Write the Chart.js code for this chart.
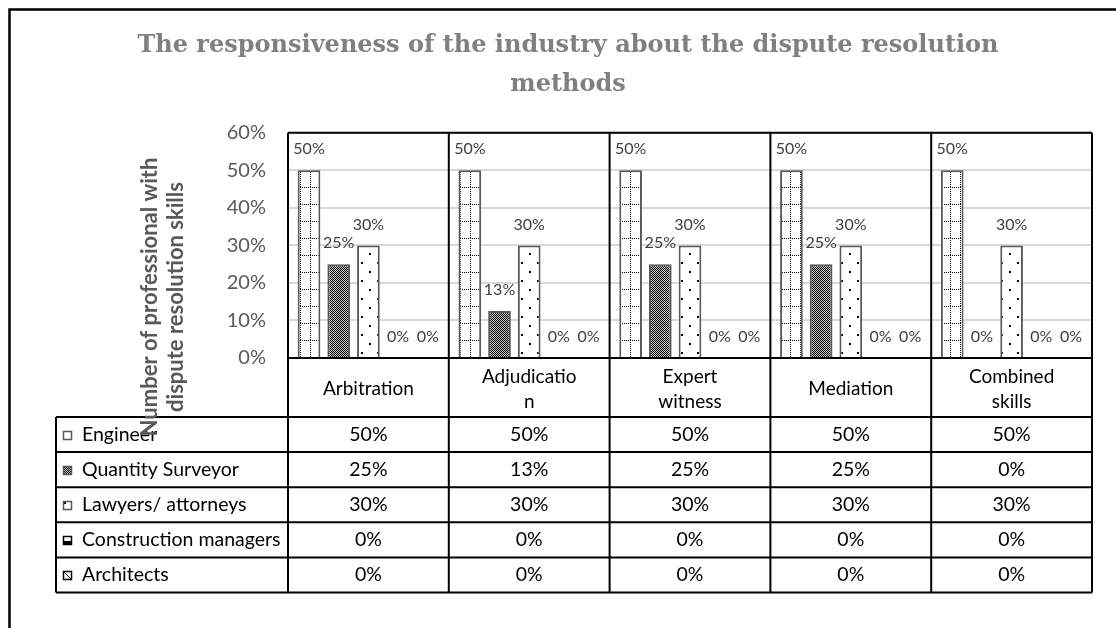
<!DOCTYPE html>
<html>
<head>
<meta charset="utf-8">
<title>Dispute resolution methods</title>
<script src="https://cdn.jsdelivr.net/npm/chart.js@4.4.0/dist/chart.umd.min.js"></script>
<style>
  html, body { margin: 0; padding: 0; background: #fff; }
  #wrap { width: 1116px; height: 628px; }
</style>
</head>
<body>
<div id="wrap"><canvas id="myChart" width="1116" height="628"></canvas></div>
<script>
"use strict";

// chart data
const categories = [["Arbitration"], ["Adjudicatio", "n"], ["Expert", "witness"], ["Mediation"], ["Combined", "skills"]];
const seriesNames = ["Engineer", "Quantity Surveyor", "Lawyers/ attorneys", "Construction managers", "Architects"];
const engineer = [50, 50, 50, 50, 50];
const quantitySurveyor = [25, 12.5, 25, 25, 0];
const lawyers = [30, 30, 30, 30, 30];
const constructionManagers = [0, 0, 0, 0, 0];
const architects = [0, 0, 0, 0, 0];
const yTicks = [0, 10, 20, 30, 40, 50, 60];
const chartTitle = ["The responsiveness of the industry about the dispute resolution", "methods"];
const yTitle = ["Number of professional with", "dispute resolution skills"];

const seriesValues = [engineer, quantitySurveyor, lawyers, constructionManagers, architects];
const font = 'Lato, "Open Sans", sans-serif';
Chart.defaults.font.family = font;

function pct(v) {
    return Math.round(v) + "%";
}

// small fill patterns, like the Excel ones
function makePattern(w, h, bg, draw) {
    const c = document.createElement("canvas");
    c.width = w;
    c.height = h;
    const g = c.getContext("2d");
    g.fillStyle = bg;
    g.fillRect(0, 0, w, h);
    g.fillStyle = "#000";
    draw(g);
    return document.getElementById("myChart").getContext("2d").createPattern(c, "repeat");
}

const patterns = [
    makePattern(10, 17, "#fff", g => {
        for (let y = 0; y < 17; y += 2) g.fillRect(0, y, 1, 1);
        for (let x = 0; x < 10; x += 2) g.fillRect(x, 0, 1, 1);
    }),
    makePattern(2, 2, "#c8c8c8", g => {
        g.fillRect(0, 0, 1, 1);
        g.fillRect(1, 1, 1, 1);
    }),
    makePattern(16, 18, "#fff", g => {
        g.fillRect(1, 1, 2, 2);
        g.fillRect(9, 10, 2, 2);
    }),
    makePattern(9, 9, "#fff", g => {
        g.fillRect(0, 5, 9, 4);
    }),
    makePattern(9, 9, "#fff", g => {
        for (let i = 1; i < 8; i++) g.fillRect(i, i, 1, 1);
    })
];
const keyBorders = ["#595959", "#595959", "#595959", "#000", "#000"];

// value labels above each bar
const valueLabels = {
    id: "valueLabels",
    afterDatasetsDraw(chart) {
        const ctx = chart.ctx;
        ctx.save();
        ctx.fillStyle = "#404040";
        ctx.font = "16px " + font;
        ctx.textAlign = "center";
        ctx.textBaseline = "middle";
        seriesValues.forEach((vals, i) => {
            chart.getDatasetMeta(i).data.forEach((bar, j) => {
                ctx.fillText(pct(vals[j]), bar.x, bar.y - 21);
            });
        });
        ctx.restore();
    }
};

// outer frame, plot box, data table and the rotated axis title
const dataTable = {
    id: "dataTable",
    afterDraw(chart) {
        const ctx = chart.ctx;
        const area = chart.chartArea;
        const x = chart.scales.x;
        const colW = x.width / categories.length;
        const headBottom = x.bottom;
        const rowH = 35.1;
        const tableBottom = headBottom + rowH * seriesNames.length;
        const labelLeft = 56;

        ctx.save();
        ctx.strokeStyle = "#000";
        ctx.lineWidth = 2.5;
        ctx.beginPath();
        ctx.moveTo(9.5, 700);
        ctx.lineTo(9.5, 9.5);
        ctx.lineTo(1200, 9.5);
        ctx.stroke();

        ctx.lineWidth = 2;
        ctx.beginPath();
        ctx.moveTo(area.left, area.top);
        ctx.lineTo(area.right, area.top);
        ctx.moveTo(area.left, area.bottom);
        ctx.lineTo(area.right, area.bottom);
        for (let k = 0; k <= categories.length; k++) {
            const cx = area.left + k * colW;
            ctx.moveTo(cx, area.top);
            ctx.lineTo(cx, tableBottom);
        }
        ctx.moveTo(labelLeft, headBottom);
        ctx.lineTo(labelLeft, tableBottom);
        for (let r = 0; r <= seriesNames.length; r++) {
            const ry = headBottom + r * rowH;
            ctx.moveTo(labelLeft, ry);
            ctx.lineTo(area.right, ry);
        }
        ctx.stroke();

        ctx.textBaseline = "middle";
        ctx.font = "19.5px " + font;
        seriesNames.forEach((name, r) => {
            const cy = headBottom + r * rowH + rowH / 2;
            ctx.save();
            ctx.translate(63, Math.round(cy) - 4);
            ctx.fillStyle = patterns[r];
            ctx.fillRect(0, 0, 9, 9);
            ctx.strokeStyle = keyBorders[r];
            ctx.lineWidth = 1.5;
            ctx.strokeRect(0.5, 0.5, 8, 8);
            ctx.restore();

            ctx.fillStyle = "#000";
            ctx.textAlign = "left";
            ctx.fillText(name, 82, cy);
            ctx.textAlign = "center";
            seriesValues[r].forEach((v, j) => {
                ctx.fillText(pct(v), x.getPixelForValue(j), cy);
            });
        });

        ctx.fillStyle = "#595959";
        ctx.font = "bold 22px " + font;
        ctx.textAlign = "center";
        const titleX = [150, 176];
        yTitle.forEach((line, i) => {
            ctx.save();
            ctx.translate(titleX[i], 297);
            ctx.rotate(-Math.PI / 2);
            ctx.fillText(line, 0, 0);
            ctx.restore();
        });
        ctx.restore();
    }
};

const myChart = new Chart(document.getElementById("myChart"), {
    type: "bar",
    data: {
        labels: categories,
        datasets: seriesNames.map((name, i) => ({
            label: name,
            data: seriesValues[i],
            backgroundColor: patterns[i],
            borderColor: "#595959",
            borderWidth: c => (c.raw === 0 ? 0 : 2),
            categoryPercentage: 0.923,
            barPercentage: 0.764
        }))
    },
    options: {
        responsive: false,
        animation: false,
        devicePixelRatio: 1,
        layout: { padding: { left: 44, right: 24, top: 10, bottom: 211 } },
        plugins: {
            legend: { display: false },
            tooltip: { enabled: false },
            title: {
                display: true,
                text: chartTitle,
                color: "#808080",
                font: { family: '"DejaVu Serif", serif', size: 24, weight: "bold", lineHeight: 1.6 },
                padding: { top: 17, bottom: 29 }
            }
        },
        scales: {
            x: {
                grid: { display: false },
                border: { display: false },
                ticks: {
                    color: "#000",
                    font: { size: 19, lineHeight: 1.3 },
                    crossAlign: "center",
                    padding: 11,
                    maxRotation: 0,
                    autoSkip: false
                },
                afterFit: s => { s.height = 59; }
            },
            y: {
                min: 0,
                max: 60,
                afterBuildTicks: s => { s.ticks = yTicks.map(v => ({ value: v })); },
                ticks: {
                    callback: v => v + "%",
                    color: "#595959",
                    font: { size: 20 },
                    padding: 22
                },
                grid: { color: "#d9d9d9", lineWidth: 2, drawTicks: false },
                border: { display: false },
                afterFit: s => { s.width = 244; }
            }
        }
    },
    plugins: [valueLabels, dataTable]
});
</script>
</body>
</html>
